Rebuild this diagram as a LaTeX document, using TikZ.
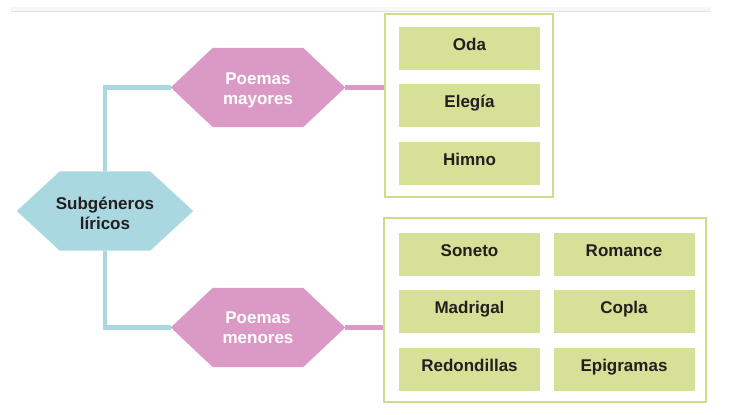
\documentclass[tikz,border=0pt]{standalone}
\usepackage{fontspec}
\setmainfont{Liberation Sans}
\usetikzlibrary{calc}
\definecolor{hexpink}{HTML}{DB9AC5}
\definecolor{hexblue}{HTML}{A9D8E0}
\definecolor{boxgreen}{HTML}{D6E097}
\definecolor{frameg}{HTML}{D3DB8B}
\definecolor{txt}{HTML}{231F20}
\tikzset{
  hexbox/.style={minimum width=#1, minimum height=79pt, inner sep=0pt, align=center,
     font=\bfseries\fontsize{17}{20}\selectfont},
  leaf/.style={fill=boxgreen, minimum width=141pt, minimum height=43pt, inner sep=0pt,
     text height=12.2pt, text depth=7.8pt,
     text=txt, font=\bfseries\fontsize{17}{20}\selectfont},
  frame/.style={draw=frameg, line width=2.5pt, fill=white, inner sep=0pt},
  blueline/.style={draw=hexblue, line width=4.5pt},
  pinkline/.style={draw=hexpink, line width=5pt},
}
\newcommand{\hexfill}[3]{%
  \fill[#3] (#1.west) -- ($(#1.north west)+(#2,0)$) -- ($(#1.north east)-(#2,0)$) -- (#1.east)
    -- ($(#1.south east)-(#2,0)$) -- ($(#1.south west)+(#2,0)$) -- cycle;}
\begin{document}
\begin{tikzpicture}[x=1pt,y=-1pt]
\useasboundingbox (0,0) rectangle (740,415);
% top rule
\fill[black!3] (11,7) rectangle (711,11);
\draw[black!11, line width=1pt] (11,11.5) -- (711,11.5);
% frames
\node[frame, minimum width=168pt, minimum height=183pt] (f1) at (469,105.5) {};
\node[frame, minimum width=322pt, minimum height=184pt] (f2) at (545,310) {};
% hexagon anchors
\node[hexbox=176pt] (sl) at (105,211) {};
\node[hexbox=174pt] (pM) at (258,87.5) {};
\node[hexbox=174pt] (pm) at (258,327.5) {};
% connectors
\draw[blueline] (sl.north) |- (pM.west);
\draw[blueline] (sl.south) |- (pm.west);
\draw[pinkline] (pM.east) -- (pM.east -| f1.west);
\draw[pinkline] (pm.east) -- (pm.east -| f2.west);
% hexagons
\hexfill{sl}{43}{hexblue}
\hexfill{pM}{42}{hexpink}
\hexfill{pm}{42}{hexpink}
\node[hexbox=176pt, minimum height=0pt, text=txt] at ($(sl)+(0,2.1)$) {Subgéneros\\líricos};
\node[hexbox=174pt, minimum height=0pt, text=white] at ($(pM)+(0,3.2)$) {Poemas\\mayores};
\node[hexbox=174pt, minimum height=0pt, text=white] at ($(pm)+(0,0.7)$) {Poemas\\menores};
% leaves
\node[leaf] (oda) at (469.5,48.5) {Oda};
\node[leaf] (ele) at (469.5,105.5) {Elegía};
\node[leaf] (him) at (469.5,163) {Himno};
\node[leaf] (son) at (469.5,254.5) {Soneto};
\node[leaf] (mad) at (469.5,311.5) {Madrigal};
\node[leaf] (red) at (469.5,369) {Redondillas};
\node[leaf] (rom) at (624,254.5) {Romance};
\node[leaf] (cop) at (624,311.5) {Copla};
\node[leaf] (epi) at (624,369) {Epigramas};
\end{tikzpicture}
\end{document}
